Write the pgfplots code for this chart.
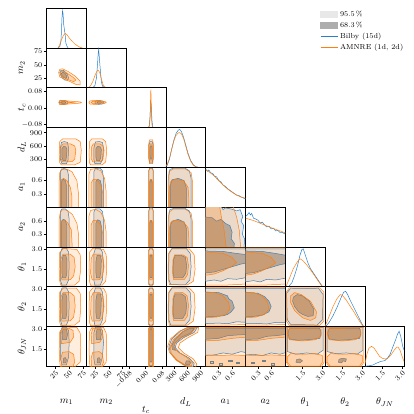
\documentclass[border=0pt]{standalone}
\usepackage{pgfplots}
\pgfplotsset{compat=1.18}
\definecolor{cb}{HTML}{2A80C8}
\definecolor{co}{HTML}{FF7F0E}
\definecolor{g95}{HTML}{E8E8E8}
\definecolor{g68}{HTML}{ADADAD}
\newcommand{\tickfont}{\fontsize{7.3}{8}\selectfont}
\newcommand{\labfont}{\fontsize{10}{12}\selectfont}
\pgfplotsset{
  cell/.style={width=39.8bp,height=39.8bp,scale only axis,anchor=north west,
    xtick=\empty,ytick=\empty,axis line style={line width=0.6pt},
    tick align=outside,major tick length=2.5bp,every tick/.style={black,line width=0.5pt},
    every axis plot/.append style={line width=0.5pt,no markers}},
  pos/.style 2 args={at={({46.5bp+#1*39.8bp},{-8bp-#2*39.8bp})}},
  cM1/.style={xmin=9,xmax=81}, cM2/.style={xmin=8,xmax=82},
  cTC/.style={xmin=-0.095,xmax=0.1}, cDL/.style={xmin=120,xmax=1020},
  cA1/.style={xmin=0.01,xmax=0.9}, cA2/.style={xmin=0.02,xmax=0.92},
  cTH/.style={xmin=0.2,xmax=3.2},
  rM2/.style={ymin=8,ymax=82}, rTC/.style={ymin=-0.095,ymax=0.1},
  rDL/.style={ymin=120,ymax=1020}, rA1/.style={ymin=0.01,ymax=0.9},
  rA2/.style={ymin=0.02,ymax=0.92}, rTH/.style={ymin=0.2,ymax=3.2},
  rD/.style={ymin=0,ymax=1},
  b95/.style={draw=cb,fill=g95}, b68/.style={draw=cb,fill=g68},
  o95/.style={draw=co,fill=co,fill opacity=0.14}, o68/.style={draw=co,fill=co,fill opacity=0.24},
  bl/.style={cb}, ol/.style={co},
  left/.style={ytick pos=left,yticklabel style={font=\tickfont,inner sep=1.5pt},
    ylabel style={at={(axis description cs:-0.62,0.5)},anchor=center,font=\labfont}},
  lM2/.style={left,ytick={25,50,75},yticklabels={25,50,75},ylabel={$m_2$}},
  lTC/.style={left,ytick={-0.08,0,0.08},yticklabels={$-0.08$,$0.00$,$0.08$},ylabel={$t_c$}},
  lDL/.style={left,ytick={300,600,900},yticklabels={300,600,900},ylabel={$d_L$}},
  lA1/.style={left,ytick={0.3,0.6},yticklabels={0.3,0.6},ylabel={$a_1$}},
  lA2/.style={left,ytick={0.3,0.6},yticklabels={0.3,0.6},ylabel={$a_2$}},
  lT1/.style={left,ytick={1.5,3.0},yticklabels={1.5,3.0},ylabel={$\theta_1$}},
  lT2/.style={left,ytick={1.5,3.0},yticklabels={1.5,3.0},ylabel={$\theta_2$}},
  lTJ/.style={left,ytick={1.5,3.0},yticklabels={1.5,3.0},ylabel={$\theta_{JN}$}},
  bottom/.style={xtick pos=lower,xticklabel style={font=\tickfont,rotate=45,anchor=north east,inner sep=1pt},
    xlabel style={at={(axis description cs:0.5,-0.9)},anchor=center,font=\labfont}},
  bM1/.style={bottom,xtick={25,50,75},xticklabels={25,50,75},xlabel={$m_1$}},
  bM2/.style={bottom,xtick={25,50,75},xticklabels={25,50,75},xlabel={$m_2$}},
  bTC/.style={bottom,xtick={-0.08,0,0.08},xticklabels={$-0.08$,$0.00$,$0.08$},xlabel={$t_c$},
    xlabel style={at={(axis description cs:0.5,-1.1)}}},
  bDL/.style={bottom,xtick={300,600,900},xticklabels={300,600,900},xlabel={$d_L$}},
  bA1/.style={bottom,xtick={0.3,0.6},xticklabels={0.3,0.6},xlabel={$a_1$}},
  bA2/.style={bottom,xtick={0.3,0.6},xticklabels={0.3,0.6},xlabel={$a_2$}},
  bT1/.style={bottom,xtick={1.5,3.0},xticklabels={1.5,3.0},xlabel={$\theta_1$}},
  bT2/.style={bottom,xtick={1.5,3.0},xticklabels={1.5,3.0},xlabel={$\theta_2$}},
  bTJ/.style={bottom,xtick={1.5,3.0},xticklabels={1.5,3.0},xlabel={$\theta_{JN}$}},
}
\begin{document}
\begin{tikzpicture}
\path[use as bounding box] (0,0) rectangle (414bp,-414bp);

% ---------------- row 1: m1
\begin{axis}[cell,pos={0}{0},cM1,rD,
  legend style={at={(6.8,1.03)},anchor=north west,draw=none,fill=none,font=\tickfont},
  legend cell align=left]
\addlegendimage{area legend,fill=g95,draw=g95}
\addlegendimage{area legend,fill=g68,draw=g68}
\addlegendimage{cb,line width=0.7pt}
\addlegendimage{co,line width=0.7pt}
\addplot[bl] coordinates {(30,0) (33,0.03) (35,0.15) (36,0.4) (37,0.75) (38,0.93) (39,0.85) (40,0.6) (42,0.4) (43,0.3) (44,0.12) (46,0.04) (48,0)};
\addplot[ol] coordinates {(30,0) (33,0.08) (36,0.2) (40,0.32) (43,0.36) (46,0.33) (50,0.25) (55,0.17) (60,0.1) (65,0.05) (70,0.01) (74,0)};
\legend{95.5\,\%,68.3\,\%,Bilby (15d),{AMNRE (1d, 2d)}}
\end{axis}

% ---------------- row 2: m2
\begin{axis}[cell,pos={0}{1},cM1,rM2,lM2]
\addplot[b95] coordinates {(33,36) (35,40) (40,40) (46,34) (49,26) (47,22) (42,22) (36,28)} --cycle;
\addplot[b68] coordinates {(36,34) (39,37) (43,34) (46,28) (44,25) (40,27) (37,30)} --cycle;
\addplot[o95] coordinates {(31,36) (33,42) (38,43) (48,38) (60,30) (70,20) (70,13) (62,14) (50,20) (40,24) (33,28)} --cycle;
\addplot[o68] coordinates {(34,36) (38,39) (46,35) (56,28) (62,22) (58,19) (48,23) (40,27) (35,31)} --cycle;
\end{axis}
\begin{axis}[cell,pos={1}{1},cM2,rD]
\addplot[bl] coordinates {(20,0) (24,0.05) (27,0.25) (29,0.6) (30,0.85) (31,0.96) (32,0.8) (34,0.45) (36,0.15) (38,0.04) (41,0)};
\addplot[ol] coordinates {(12,0) (16,0.05) (20,0.15) (24,0.3) (28,0.42) (30,0.44) (33,0.38) (36,0.22) (39,0.08) (42,0.02) (45,0)};
\end{axis}

% ---------------- row 3: tc
\begin{axis}[cell,pos={0}{2},cM1,rTC,lTC]
\addplot[b95] coordinates {(32,0.027) (34,0.036) (40,0.038) (46,0.034) (48,0.027) (46,0.02) (40,0.017) (34,0.019)} --cycle;
\addplot[b68] coordinates {(36,0.027) (38,0.032) (42,0.032) (44,0.027) (42,0.022) (38,0.022)} --cycle;
\addplot[o95] coordinates {(31,0.027) (33,0.037) (42,0.036) (55,0.033) (70,0.03) (72,0.027) (70,0.024) (55,0.021) (42,0.018) (33,0.017)} --cycle;
\addplot[o68] coordinates {(34,0.027) (36,0.033) (45,0.031) (58,0.028) (45,0.023) (36,0.022)} --cycle;
\end{axis}
\begin{axis}[cell,pos={1}{2},cM2,rTC]
\addplot[b95] coordinates {(24,0.027) (26,0.036) (33,0.037) (39,0.033) (41,0.027) (38,0.02) (31,0.018) (26,0.02)} --cycle;
\addplot[b68] coordinates {(28,0.027) (30,0.032) (35,0.032) (37,0.027) (35,0.023) (30,0.023)} --cycle;
\addplot[o95] coordinates {(13,0.027) (15,0.035) (25,0.037) (38,0.035) (44,0.03) (45,0.026) (40,0.021) (25,0.018) (15,0.019)} --cycle;
\addplot[o68] coordinates {(17,0.027) (20,0.033) (30,0.033) (40,0.029) (30,0.022) (20,0.022)} --cycle;
\end{axis}
\begin{axis}[cell,pos={2}{2},cTC,rD]
\addplot[bl] coordinates {(0.015,0) (0.019,0.05) (0.022,0.25) (0.025,0.55) (0.027,0.6) (0.029,0.45) (0.032,0.15) (0.036,0)};
\addplot[ol] coordinates {(0.015,0) (0.02,0.05) (0.023,0.3) (0.025,0.8) (0.026,0.95) (0.027,0.85) (0.029,0.4) (0.031,0.1) (0.034,0)};
\end{axis}

% ---------------- row 4: dL
\begin{axis}[cell,pos={0}{3},cM1,rDL,lDL]
\addplot[b95] coordinates {(37,200) (45,200) (48,280) (49,550) (47,680) (41,700) (36,680) (34,550) (34,300)} --cycle;
\addplot[b68] coordinates {(39,270) (44,270) (45,350) (46,520) (44,580) (40,590) (37,540) (37,340)} --cycle;
\addplot[o95] coordinates {(36,170) (60,175) (70,230) (72,500) (70,700) (62,760) (38,760) (33,700) (32,400) (33,220)} --cycle;
\addplot[o68] coordinates {(38,240) (55,245) (60,300) (62,500) (60,600) (52,650) (39,650) (35,580) (35,320)} --cycle;
\end{axis}
\begin{axis}[cell,pos={1}{3},cM2,rDL]
\addplot[b95] coordinates {(24,200) (34,200) (38,280) (40,550) (38,680) (32,700) (25,690) (22,550) (22,300)} --cycle;
\addplot[b68] coordinates {(27,270) (33,270) (35,350) (36,520) (34,580) (29,590) (26,540) (26,340)} --cycle;
\addplot[o95] coordinates {(16,170) (38,175) (44,240) (46,500) (44,700) (38,760) (18,760) (14,700) (13,400) (14,220)} --cycle;
\addplot[o68] coordinates {(20,240) (34,245) (39,300) (41,500) (39,600) (33,650) (21,650) (18,580) (17,320)} --cycle;
\end{axis}
\begin{axis}[cell,pos={2}{3},cTC,rDL]
\addplot[b95] coordinates {(0.021,220) (0.033,220) (0.038,350) (0.038,600) (0.033,700) (0.022,700) (0.016,600) (0.016,350)} --cycle;
\addplot[b68] coordinates {(0.024,300) (0.031,300) (0.033,420) (0.032,560) (0.03,600) (0.024,600) (0.022,520) (0.022,400)} --cycle;
\addplot[o95] coordinates {(0.02,200) (0.035,200) (0.04,350) (0.04,600) (0.035,740) (0.02,740) (0.014,600) (0.014,350)} --cycle;
\addplot[o68] coordinates {(0.022,260) (0.032,260) (0.035,400) (0.034,600) (0.03,650) (0.023,650) (0.02,560) (0.019,380)} --cycle;
\end{axis}
\begin{axis}[cell,pos={3}{3},cDL,rD]
\addplot[bl] coordinates {(120,0.02) (150,0.05) (200,0.2) (250,0.45) (300,0.68) (350,0.85) (400,0.93) (430,0.95) (470,0.9) (520,0.75) (570,0.55) (620,0.35) (680,0.17) (740,0.06) (800,0.01) (850,0)};
\addplot[ol] coordinates {(120,0.03) (150,0.08) (200,0.22) (250,0.45) (300,0.66) (350,0.8) (400,0.86) (430,0.87) (470,0.84) (520,0.72) (570,0.52) (620,0.32) (680,0.15) (740,0.05) (800,0.01) (850,0)};
\end{axis}

% ---------------- row 5: a1
\begin{axis}[cell,pos={0}{4},cM1,rA1,lA1]
\addplot[b95] coordinates {(34,-0.1) (34,0.8) (36,0.86) (42,0.87) (47,0.83) (49,0.7) (49,-0.1)} --cycle;
\addplot[b68] coordinates {(36,-0.1) (36,0.58) (39,0.63) (43,0.6) (45,0.5) (45,-0.1)} --cycle;
\addplot[o95] coordinates {(32,-0.1) (32,0.6) (33,0.78) (37,0.85) (45,0.86) (55,0.8) (64,0.6) (67,0.3) (67,-0.1)} --cycle;
\addplot[o68] coordinates {(34,-0.1) (34,0.5) (36,0.62) (40,0.65) (46,0.6) (52,0.45) (55,0.25) (55,-0.1)} --cycle;
\end{axis}
\begin{axis}[cell,pos={1}{4},cM2,rA1]
\addplot[b95] coordinates {(22,-0.1) (22,0.8) (25,0.87) (33,0.88) (38,0.82) (40,0.65) (40,-0.1)} --cycle;
\addplot[b68] coordinates {(26,-0.1) (26,0.58) (29,0.63) (34,0.6) (36,0.5) (36,-0.1)} --cycle;
\addplot[o95] coordinates {(13,-0.1) (13,0.75) (16,0.85) (25,0.87) (35,0.82) (42,0.65) (45,0.35) (45,-0.1)} --cycle;
\addplot[o68] coordinates {(17,-0.1) (17,0.55) (21,0.63) (28,0.63) (35,0.5) (39,0.3) (39,-0.1)} --cycle;
\end{axis}
\begin{axis}[cell,pos={2}{4},cTC,rA1]
\addplot[b95] coordinates {(0.016,-0.1) (0.038,-0.1) (0.038,0.82) (0.033,0.88) (0.021,0.88) (0.016,0.82)} --cycle;
\addplot[b68] coordinates {(0.022,-0.1) (0.032,-0.1) (0.032,0.56) (0.029,0.62) (0.025,0.62) (0.022,0.56)} --cycle;
\addplot[o95] coordinates {(0.014,-0.1) (0.04,-0.1) (0.04,0.8) (0.035,0.87) (0.02,0.87) (0.014,0.8)} --cycle;
\addplot[o68] coordinates {(0.019,-0.1) (0.035,-0.1) (0.035,0.55) (0.031,0.63) (0.023,0.63) (0.019,0.55)} --cycle;
\end{axis}
\begin{axis}[cell,pos={3}{4},cDL,rA1]
\addplot[b95] coordinates {(185,-0.1) (185,0.7) (210,0.85) (300,0.88) (550,0.88) (650,0.82) (690,0.65) (690,-0.1)} --cycle;
\addplot[b68] coordinates {(220,-0.1) (220,0.5) (260,0.62) (400,0.65) (530,0.6) (580,0.45) (590,-0.1)} --cycle;
\addplot[o95] coordinates {(175,-0.1) (172,0.6) (190,0.8) (280,0.86) (560,0.86) (690,0.78) (725,0.55) (725,-0.1)} --cycle;
\addplot[o68] coordinates {(200,-0.1) (200,0.45) (230,0.58) (330,0.63) (520,0.6) (620,0.45) (640,0.2) (640,-0.1)} --cycle;
\end{axis}
\begin{axis}[cell,pos={4}{4},cA1,rD]
\addplot[bl] coordinates {(0.01,0.95) (0.05,0.9) (0.08,0.93) (0.12,0.86) (0.17,0.84) (0.2,0.78) (0.25,0.76) (0.3,0.67) (0.35,0.63) (0.4,0.55) (0.45,0.52) (0.5,0.46) (0.55,0.42) (0.6,0.38) (0.65,0.34) (0.7,0.3) (0.75,0.29) (0.8,0.25) (0.85,0.23) (0.9,0.2)};
\addplot[ol] coordinates {(0.01,0.93) (0.1,0.87) (0.2,0.78) (0.3,0.66) (0.4,0.55) (0.5,0.45) (0.6,0.37) (0.7,0.3) (0.8,0.25) (0.9,0.22)};
\end{axis}

% ---------------- row 6: a2
\begin{axis}[cell,pos={0}{5},cM1,rA2,lA2]
\addplot[b95] coordinates {(34,-0.1) (34,0.82) (37,0.88) (43,0.88) (48,0.82) (50,0.65) (50,-0.1)} --cycle;
\addplot[b68] coordinates {(36,-0.1) (36,0.58) (39,0.64) (43,0.62) (46,0.5) (46,-0.1)} --cycle;
\addplot[o95] coordinates {(32,-0.1) (32,0.65) (34,0.8) (38,0.86) (46,0.85) (56,0.75) (64,0.55) (67,0.3) (67,-0.1)} --cycle;
\addplot[o68] coordinates {(34,-0.1) (34,0.52) (37,0.62) (42,0.63) (48,0.55) (54,0.4) (56,-0.1)} --cycle;
\end{axis}
\begin{axis}[cell,pos={1}{5},cM2,rA2]
\addplot[b95] coordinates {(22,-0.1) (22,0.8) (25,0.88) (33,0.88) (38,0.82) (40,0.65) (40,-0.1)} --cycle;
\addplot[b68] coordinates {(26,-0.1) (26,0.56) (29,0.63) (34,0.6) (36,0.48) (36,-0.1)} --cycle;
\addplot[o95] coordinates {(13,-0.1) (13,0.72) (16,0.84) (25,0.87) (35,0.8) (42,0.62) (45,0.35) (45,-0.1)} --cycle;
\addplot[o68] coordinates {(17,-0.1) (17,0.52) (21,0.62) (28,0.62) (35,0.5) (39,0.3) (39,-0.1)} --cycle;
\end{axis}
\begin{axis}[cell,pos={2}{5},cTC,rA2]
\addplot[b95] coordinates {(0.016,-0.1) (0.038,-0.1) (0.038,0.84) (0.033,0.9) (0.021,0.9) (0.016,0.84)} --cycle;
\addplot[b68] coordinates {(0.022,-0.1) (0.032,-0.1) (0.032,0.56) (0.029,0.62) (0.025,0.62) (0.022,0.56)} --cycle;
\addplot[o95] coordinates {(0.014,-0.1) (0.04,-0.1) (0.04,0.8) (0.035,0.88) (0.02,0.88) (0.014,0.8)} --cycle;
\addplot[o68] coordinates {(0.019,-0.1) (0.035,-0.1) (0.035,0.55) (0.031,0.62) (0.023,0.62) (0.019,0.55)} --cycle;
\end{axis}
\begin{axis}[cell,pos={3}{5},cDL,rA2]
\addplot[b95] coordinates {(185,-0.1) (185,0.72) (210,0.86) (300,0.89) (550,0.89) (650,0.83) (690,0.65) (690,-0.1)} --cycle;
\addplot[b68] coordinates {(220,-0.1) (220,0.5) (260,0.6) (400,0.64) (530,0.58) (580,0.45) (590,-0.1)} --cycle;
\addplot[o95] coordinates {(175,-0.1) (172,0.6) (190,0.8) (280,0.87) (560,0.87) (690,0.78) (725,0.55) (725,-0.1)} --cycle;
\addplot[o68] coordinates {(200,-0.1) (200,0.45) (230,0.57) (330,0.62) (520,0.58) (620,0.45) (640,0.2) (640,-0.1)} --cycle;
\end{axis}
\begin{axis}[cell,pos={4}{5},cA1,rA2]
\addplot[b95] coordinates {(-0.1,-0.1) (-0.1,1) (0.3,1) (0.4,0.86) (0.45,0.9) (0.6,0.87) (0.7,0.83) (0.78,0.86) (0.84,0.7) (0.8,0.6) (0.86,0.5) (0.83,0.3) (0.88,0.2) (0.86,-0.1)} --cycle;
\addplot[b68] coordinates {(-0.1,-0.1) (-0.1,0.7) (0.15,0.68) (0.25,0.6) (0.35,0.64) (0.45,0.55) (0.55,0.5) (0.6,0.35) (0.58,0.2) (0.65,0.1) (0.64,-0.1)} --cycle;
\addplot[o95] coordinates {(-0.1,-0.1) (-0.1,1) (0.6,1) (0.7,0.7) (0.76,0.4) (0.8,-0.1)} --cycle;
\addplot[o68] coordinates {(-0.1,-0.1) (-0.1,1) (0.31,1) (0.36,0.7) (0.42,0.4) (0.48,-0.1)} --cycle;
\end{axis}
\begin{axis}[cell,pos={5}{5},cA2,rD]
\addplot[bl] coordinates {(0.02,0.76) (0.06,0.8) (0.1,0.86) (0.13,0.8) (0.16,0.84) (0.2,0.72) (0.25,0.7) (0.3,0.67) (0.35,0.6) (0.4,0.62) (0.45,0.55) (0.5,0.5) (0.55,0.52) (0.6,0.45) (0.65,0.47) (0.7,0.4) (0.75,0.41) (0.8,0.36) (0.85,0.36) (0.92,0.32)};
\addplot[ol] coordinates {(0.02,0.72) (0.2,0.66) (0.4,0.57) (0.6,0.48) (0.8,0.4) (0.92,0.35)};
\end{axis}

% ---------------- row 7: theta1
\begin{axis}[cell,pos={0}{6},cM1,rTH,lT1]
\addplot[b95] coordinates {(37,0.3) (45,0.32) (49,0.7) (50,1.8) (49,2.8) (45,3.08) (37,3.08) (34,2.7) (34,0.7)} --cycle;
\addplot[b68] coordinates {(38,0.85) (44,0.85) (46,1.3) (46,2.2) (44,2.55) (39,2.55) (37,2.1) (37,1.2)} --cycle;
\addplot[o95] coordinates {(35,0.3) (60,0.32) (68,0.6) (71,1.5) (70,2.6) (64,3.0) (40,3.08) (33,2.8) (32,1.5) (33,0.6)} --cycle;
\addplot[o68] coordinates {(37,0.7) (52,0.72) (58,1.0) (61,1.7) (59,2.4) (52,2.65) (39,2.65) (35,2.3) (34,1.2)} --cycle;
\end{axis}
\begin{axis}[cell,pos={1}{6},cM2,rTH]
\addplot[b95] coordinates {(24,0.3) (34,0.32) (38,0.7) (40,1.8) (38,2.8) (34,3.08) (25,3.08) (22,2.7) (22,0.7)} --cycle;
\addplot[b68] coordinates {(27,0.85) (33,0.85) (35,1.3) (36,2.2) (34,2.55) (28,2.55) (26,2.1) (26,1.2)} --cycle;
\addplot[o95] coordinates {(16,0.3) (38,0.32) (44,0.6) (46,1.5) (45,2.6) (40,3.0) (20,3.08) (14,2.8) (13,1.5) (14,0.6)} --cycle;
\addplot[o68] coordinates {(19,0.7) (33,0.72) (38,1.0) (41,1.7) (39,2.4) (33,2.65) (21,2.65) (17,2.3) (16,1.2)} --cycle;
\end{axis}
\begin{axis}[cell,pos={2}{6},cTC,rTH]
\addplot[b95] coordinates {(0.016,0.45) (0.021,0.33) (0.033,0.33) (0.038,0.45) (0.038,2.9) (0.033,3.05) (0.021,3.05) (0.016,2.9)} --cycle;
\addplot[b68] coordinates {(0.022,0.95) (0.025,0.85) (0.029,0.85) (0.032,0.95) (0.032,2.4) (0.029,2.55) (0.025,2.55) (0.022,2.4)} --cycle;
\addplot[o95] coordinates {(0.014,0.4) (0.02,0.3) (0.035,0.3) (0.04,0.4) (0.04,2.9) (0.035,3.08) (0.02,3.08) (0.014,2.9)} --cycle;
\addplot[o68] coordinates {(0.019,0.8) (0.023,0.7) (0.031,0.7) (0.035,0.8) (0.035,2.5) (0.031,2.65) (0.023,2.65) (0.019,2.5)} --cycle;
\end{axis}
\begin{axis}[cell,pos={3}{6},cDL,rTH]
\addplot[b95] coordinates {(230,0.35) (560,0.33) (660,0.7) (690,1.7) (670,2.7) (580,3.08) (260,3.08) (190,2.7) (180,1.5) (190,0.7)} --cycle;
\addplot[b68] coordinates {(300,0.85) (500,0.85) (570,1.2) (590,1.8) (560,2.4) (470,2.55) (330,2.55) (290,2.2) (280,1.3)} --cycle;
\addplot[o95] coordinates {(200,0.35) (600,0.32) (740,0.6) (780,1.5) (760,2.6) (650,3.05) (250,3.05) (180,2.7) (170,1.5) (180,0.7)} --cycle;
\addplot[o68] coordinates {(290,0.75) (540,0.75) (610,1.1) (630,1.8) (600,2.4) (500,2.6) (320,2.6) (280,2.2) (270,1.3)} --cycle;
\end{axis}
\begin{axis}[cell,pos={4}{6},cA1,rTH]
\addplot[b95] coordinates {(-0.1,0.55) (0.2,0.7) (0.35,0.6) (0.5,0.8) (0.7,0.75) (0.95,0.9) (0.95,3.05) (-0.1,3.05)} --cycle;
\addplot[b68] coordinates {(-0.1,1.2) (0.2,1.3) (0.4,1.5) (0.6,1.7) (0.8,1.9) (0.95,2.0) (0.95,2.6) (0.7,2.7) (0.4,2.85) (-0.1,2.9)} --cycle;
\addplot[o95] coordinates {(-0.1,0.3) (0.5,0.32) (0.95,0.4) (0.95,3.12) (-0.1,3.12)} --cycle;
\addplot[o68] coordinates {(-0.1,1.0) (0.2,1.15) (0.4,1.4) (0.6,1.75) (0.7,2.0) (0.6,2.4) (0.4,2.7) (-0.1,2.85)} --cycle;
\end{axis}
\begin{axis}[cell,pos={5}{6},cA2,rTH]
\addplot[b95] coordinates {(-0.1,0.5) (0.2,0.65) (0.35,0.55) (0.5,0.75) (0.7,0.7) (0.95,0.85) (0.95,3.05) (-0.1,3.05)} --cycle;
\addplot[b68] coordinates {(-0.1,1.15) (0.2,1.25) (0.4,1.45) (0.6,1.65) (0.8,1.85) (0.95,1.95) (0.95,2.55) (0.7,2.7) (0.4,2.85) (-0.1,2.9)} --cycle;
\addplot[o95] coordinates {(-0.1,0.3) (0.5,0.32) (0.95,0.4) (0.95,3.12) (-0.1,3.12)} --cycle;
\addplot[o68] coordinates {(-0.1,1.0) (0.2,1.15) (0.4,1.4) (0.6,1.75) (0.7,2.0) (0.6,2.4) (0.4,2.7) (-0.1,2.85)} --cycle;
\end{axis}
\begin{axis}[cell,pos={6}{6},cTH,rD]
\addplot[bl] coordinates {(0.45,0) (0.7,0.1) (0.9,0.28) (1.1,0.5) (1.3,0.78) (1.45,0.93) (1.55,0.95) (1.7,0.8) (1.9,0.6) (2.1,0.45) (2.3,0.35) (2.5,0.25) (2.7,0.15) (2.9,0.05) (3.0,0)};
\addplot[ol] coordinates {(0.25,0) (0.5,0.2) (0.8,0.45) (1.1,0.62) (1.3,0.7) (1.5,0.66) (1.8,0.55) (2.1,0.42) (2.4,0.28) (2.7,0.13) (2.95,0.02) (3.05,0)};
\end{axis}

% ---------------- row 8: theta2
\begin{axis}[cell,pos={0}{7},cM1,rTH,lT2]
\addplot[b95] coordinates {(37,0.28) (45,0.3) (49,0.7) (50,1.8) (49,2.8) (45,3.1) (37,3.1) (34,2.7) (34,0.7)} --cycle;
\addplot[b68] coordinates {(38,0.8) (44,0.8) (46,1.3) (46,2.3) (44,2.65) (39,2.65) (37,2.2) (37,1.2)} --cycle;
\addplot[o95] coordinates {(35,0.25) (60,0.3) (69,0.6) (71,1.6) (70,2.7) (63,3.08) (40,3.1) (33,2.8) (32,1.5) (33,0.5)} --cycle;
\addplot[o68] coordinates {(37,0.6) (52,0.62) (58,0.9) (61,1.7) (59,2.5) (52,2.75) (39,2.75) (35,2.4) (34,1.1)} --cycle;
\end{axis}
\begin{axis}[cell,pos={1}{7},cM2,rTH]
\addplot[b95] coordinates {(24,0.28) (34,0.3) (38,0.7) (40,1.8) (38,2.8) (34,3.1) (25,3.1) (22,2.7) (22,0.7)} --cycle;
\addplot[b68] coordinates {(27,0.8) (33,0.8) (35,1.3) (36,2.3) (34,2.65) (28,2.65) (26,2.2) (26,1.2)} --cycle;
\addplot[o95] coordinates {(16,0.25) (38,0.3) (44,0.6) (46,1.6) (45,2.7) (40,3.08) (20,3.1) (14,2.8) (13,1.5) (14,0.5)} --cycle;
\addplot[o68] coordinates {(19,0.6) (33,0.62) (38,0.9) (41,1.7) (39,2.5) (33,2.75) (21,2.75) (17,2.4) (16,1.1)} --cycle;
\end{axis}
\begin{axis}[cell,pos={2}{7},cTC,rTH]
\addplot[b95] coordinates {(0.016,0.4) (0.021,0.3) (0.033,0.3) (0.038,0.4) (0.038,2.95) (0.033,3.08) (0.021,3.08) (0.016,2.95)} --cycle;
\addplot[b68] coordinates {(0.022,0.9) (0.025,0.8) (0.029,0.8) (0.032,0.9) (0.032,2.5) (0.029,2.65) (0.025,2.65) (0.022,2.5)} --cycle;
\addplot[o95] coordinates {(0.014,0.35) (0.02,0.25) (0.035,0.25) (0.04,0.35) (0.04,2.95) (0.035,3.1) (0.02,3.1) (0.014,2.95)} --cycle;
\addplot[o68] coordinates {(0.019,0.7) (0.023,0.6) (0.031,0.6) (0.035,0.7) (0.035,2.6) (0.031,2.75) (0.023,2.75) (0.019,2.6)} --cycle;
\end{axis}
\begin{axis}[cell,pos={3}{7},cDL,rTH]
\addplot[b95] coordinates {(230,0.3) (560,0.3) (660,0.7) (690,1.7) (670,2.75) (580,3.1) (260,3.1) (190,2.75) (180,1.5) (190,0.65)} --cycle;
\addplot[b68] coordinates {(300,0.8) (500,0.8) (570,1.2) (590,1.8) (560,2.45) (470,2.65) (330,2.65) (290,2.25) (280,1.3)} --cycle;
\addplot[o95] coordinates {(200,0.28) (600,0.28) (740,0.6) (780,1.6) (760,2.7) (650,3.1) (250,3.1) (180,2.75) (170,1.5) (180,0.6)} --cycle;
\addplot[o68] coordinates {(290,0.65) (540,0.65) (610,1.0) (630,1.8) (600,2.5) (500,2.75) (320,2.75) (280,2.3) (270,1.2)} --cycle;
\end{axis}
\begin{axis}[cell,pos={4}{7},cA1,rTH]
\addplot[b95] coordinates {(-0.1,0.4) (0.3,0.45) (0.5,0.4) (0.7,0.55) (0.95,0.5) (0.95,3.05) (-0.1,3.05)} --cycle;
\addplot[b68] coordinates {(-0.1,0.9) (0.2,0.95) (0.4,1.0) (0.5,1.1) (0.58,1.3) (0.65,1.6) (0.6,2.1) (0.52,2.3) (0.5,2.5) (0.3,2.75) (-0.1,2.8)} --cycle;
\addplot[o95] coordinates {(-0.1,0.3) (0.5,0.3) (0.95,0.35) (0.95,3.12) (-0.1,3.12)} --cycle;
\addplot[o68] coordinates {(-0.1,0.85) (0.25,0.9) (0.45,1.1) (0.55,1.5) (0.52,2.0) (0.4,2.5) (0.2,2.75) (-0.1,2.8)} --cycle;
\end{axis}
\begin{axis}[cell,pos={5}{7},cA2,rTH]
\addplot[b95] coordinates {(-0.1,0.4) (0.3,0.42) (0.5,0.38) (0.7,0.5) (0.95,0.48) (0.95,3.05) (-0.1,3.05)} --cycle;
\addplot[b68] coordinates {(-0.1,0.9) (0.2,0.95) (0.4,1.05) (0.55,1.3) (0.6,1.7) (0.55,2.1) (0.45,2.45) (0.3,2.7) (-0.1,2.8)} --cycle;
\addplot[o95] coordinates {(-0.1,0.3) (0.5,0.3) (0.95,0.35) (0.95,3.12) (-0.1,3.12)} --cycle;
\addplot[o68] coordinates {(-0.1,0.85) (0.25,0.9) (0.45,1.1) (0.55,1.5) (0.52,2.0) (0.4,2.5) (0.2,2.75) (-0.1,2.8)} --cycle;
\end{axis}
\begin{axis}[cell,pos={6}{7},cTH,rTH]
\addplot[b95] coordinates {(0.6,0.35) (1.5,0.33) (2.6,0.3) (3.0,0.7) (3.05,2.6) (2.7,3.08) (1.5,3.05) (0.6,3.08) (0.3,2.7) (0.35,0.7)} --cycle;
\addplot[b68] coordinates {(0.8,2.4) (1.1,2.6) (1.5,2.5) (2.0,2.1) (2.35,1.5) (2.3,1.0) (1.9,0.95) (1.5,1.1) (1.2,1.3) (0.9,1.7) (0.75,2.1)} --cycle;
\addplot[o95] coordinates {(0.5,0.28) (2.8,0.28) (3.1,0.6) (3.1,2.8) (2.8,3.1) (0.5,3.1) (0.28,2.8) (0.28,0.6)} --cycle;
\addplot[o68] coordinates {(0.6,2.5) (0.9,2.75) (1.4,2.6) (2.1,2.1) (2.55,1.3) (2.5,0.85) (2.1,0.65) (1.5,0.85) (0.9,1.4) (0.6,2.0)} --cycle;
\end{axis}
\begin{axis}[cell,pos={7}{7},cTH,rD]
\addplot[bl] coordinates {(0.25,0) (0.5,0.1) (0.8,0.27) (1.1,0.48) (1.4,0.72) (1.6,0.86) (1.75,0.88) (1.9,0.8) (2.1,0.65) (2.4,0.45) (2.7,0.25) (2.95,0.08) (3.1,0)};
\addplot[ol] coordinates {(0.2,0) (0.5,0.25) (0.8,0.5) (1.1,0.7) (1.35,0.8) (1.5,0.78) (1.8,0.66) (2.1,0.5) (2.4,0.35) (2.7,0.18) (3.0,0.03) (3.1,0)};
\end{axis}

% ---------------- row 9: thetaJN
\begin{axis}[cell,pos={0}{8},cM1,rTH,lTJ,bM1]
\addplot[b95] coordinates {(37,0.3) (45,0.3) (49,0.9) (50,2.0) (49,2.9) (45,3.12) (37,3.12) (34,2.7) (34,0.8)} --cycle;
\addplot[b68] coordinates {(38,2.2) (45,2.2) (47,2.6) (45,3.0) (39,3.0) (37,2.6)} --cycle;
\addplot[b68] coordinates {(39,0.45) (44,0.45) (45,0.7) (43,0.85) (40,0.8)} --cycle;
\addplot[o95] coordinates {(34,0.15) (60,0.15) (70,0.5) (71,1.6) (70,2.7) (64,3.12) (40,3.15) (33,2.8) (32,1.5) (33,0.5)} --cycle;
\addplot[o68] coordinates {(36,1.9) (52,2.0) (58,2.4) (57,2.9) (50,3.05) (38,3.05) (35,2.6)} --cycle;
\addplot[o68] coordinates {(36,0.1) (56,0.1) (60,0.5) (58,1.1) (50,1.3) (38,1.25) (35,0.8)} --cycle;
\end{axis}
\begin{axis}[cell,pos={1}{8},cM2,rTH,bM2]
\addplot[b95] coordinates {(24,0.3) (34,0.3) (38,0.9) (40,2.0) (38,2.9) (34,3.12) (25,3.12) (22,2.7) (22,0.8)} --cycle;
\addplot[b68] coordinates {(27,2.2) (34,2.2) (36,2.6) (34,3.0) (28,3.0) (26,2.6)} --cycle;
\addplot[b68] coordinates {(28,0.45) (33,0.45) (34,0.7) (32,0.85) (29,0.8)} --cycle;
\addplot[o95] coordinates {(15,0.15) (38,0.15) (45,0.5) (46,1.6) (45,2.7) (40,3.12) (19,3.15) (14,2.8) (13,1.5) (14,0.5)} --cycle;
\addplot[o68] coordinates {(18,1.9) (33,2.0) (39,2.4) (38,2.9) (32,3.05) (20,3.05) (17,2.6)} --cycle;
\addplot[o68] coordinates {(18,0.1) (36,0.1) (40,0.5) (38,1.1) (32,1.3) (20,1.25) (17,0.8)} --cycle;
\end{axis}
\begin{axis}[cell,pos={2}{8},cTC,rTH,bTC]
\addplot[b95] coordinates {(0.016,0.35) (0.021,0.25) (0.033,0.25) (0.038,0.35) (0.038,3.0) (0.033,3.12) (0.021,3.12) (0.016,3.0)} --cycle;
\addplot[b68] coordinates {(0.022,0.6) (0.025,0.5) (0.029,0.5) (0.032,0.6) (0.032,2.9) (0.029,3.05) (0.025,3.05) (0.022,2.9)} --cycle;
\addplot[o95] coordinates {(0.014,0.1) (0.04,0.1) (0.04,3.05) (0.035,3.15) (0.02,3.15) (0.014,3.05)} --cycle;
\addplot[o68] coordinates {(0.019,0.1) (0.035,0.1) (0.035,2.95) (0.031,3.05) (0.023,3.05) (0.019,2.95)} --cycle;
\end{axis}
\begin{axis}[cell,pos={3}{8},cDL,rTH,bDL]
\addplot[b95] coordinates {(620,3.12) (830,3.12) (760,2.75) (520,2.35) (360,1.95) (330,1.6) (440,1.2) (650,0.8) (760,0.4) (730,0.15) (560,0.25) (370,0.65) (220,1.2) (190,1.7) (250,2.25) (450,2.85)} --cycle;
\addplot[b68] coordinates {(660,3.05) (760,3.05) (680,2.7) (480,2.4) (330,1.95) (300,1.65) (340,1.4) (270,1.45) (250,1.75) (320,2.2) (500,2.8)} --cycle;
\addplot[b68] coordinates {(560,0.35) (640,0.3) (680,0.45) (640,0.6) (580,0.6)} --cycle;
\addplot[o95] coordinates {(600,3.12) (860,3.12) (840,2.75) (620,2.35) (440,1.95) (400,1.6) (520,1.2) (740,0.75) (820,0.35) (790,0.12) (560,0.2) (350,0.65) (200,1.25) (160,1.7) (220,2.25) (430,2.85)} --cycle;
\addplot[o68] coordinates {(640,3.1) (790,3.1) (700,2.7) (470,2.35) (320,1.95) (300,1.6) (400,1.25) (600,0.85) (720,0.45) (700,0.22) (560,0.3) (380,0.65) (240,1.15) (220,1.7) (290,2.2) (480,2.75)} --cycle;
\end{axis}
\begin{axis}[cell,pos={4}{8},cA1,rTH,bA1]
\addplot[b95] coordinates {(-0.1,1.0) (0.2,1.05) (0.4,1.2) (0.6,1.1) (0.8,1.3) (0.95,1.2) (0.95,3.1) (-0.1,3.1)} --cycle;
\addplot[b95] coordinates {(0.12,0.45) (0.18,0.45) (0.18,0.55) (0.12,0.55)} --cycle;
\addplot[b95] coordinates {(0.32,0.3) (0.38,0.3) (0.38,0.4) (0.32,0.4)} --cycle;
\addplot[b95] coordinates {(0.52,0.55) (0.6,0.55) (0.6,0.68) (0.52,0.68)} --cycle;
\addplot[b95] coordinates {(0.7,0.4) (0.76,0.4) (0.76,0.5) (0.7,0.5)} --cycle;
\addplot[b68] coordinates {(-0.1,2.2) (0.3,2.3) (0.5,2.5) (0.7,2.55) (0.95,2.6) (0.95,3.05) (-0.1,3.05)} --cycle;
\addplot[o95] coordinates {(-0.1,0.15) (0.95,0.15) (0.95,3.15) (-0.1,3.15)} --cycle;
\addplot[o68] coordinates {(-0.1,2.1) (0.3,2.15) (0.6,2.3) (0.95,2.4) (0.95,3.1) (-0.1,3.1)} --cycle;
\addplot[o68] coordinates {(-0.1,0.1) (0.95,0.1) (0.95,1.0) (0.6,1.05) (0.3,1.0) (-0.1,1.05)} --cycle;
\end{axis}
\begin{axis}[cell,pos={5}{8},cA2,rTH,bA2]
\addplot[b95] coordinates {(-0.1,1.0) (0.2,1.1) (0.4,1.0) (0.6,1.2) (0.8,1.1) (0.95,1.25) (0.95,3.1) (-0.1,3.1)} --cycle;
\addplot[b95] coordinates {(0.15,0.4) (0.21,0.4) (0.21,0.5) (0.15,0.5)} --cycle;
\addplot[b95] coordinates {(0.4,0.55) (0.47,0.55) (0.47,0.68) (0.4,0.68)} --cycle;
\addplot[b95] coordinates {(0.6,0.3) (0.66,0.3) (0.66,0.4) (0.6,0.4)} --cycle;
\addplot[b68] coordinates {(-0.1,2.2) (0.3,2.25) (0.5,2.45) (0.7,2.5) (0.95,2.6) (0.95,3.05) (-0.1,3.05)} --cycle;
\addplot[o95] coordinates {(-0.1,0.15) (0.95,0.15) (0.95,3.15) (-0.1,3.15)} --cycle;
\addplot[o68] coordinates {(-0.1,2.1) (0.3,2.15) (0.6,2.3) (0.95,2.4) (0.95,3.1) (-0.1,3.1)} --cycle;
\addplot[o68] coordinates {(-0.1,0.1) (0.95,0.1) (0.95,1.0) (0.6,1.05) (0.3,1.0) (-0.1,1.05)} --cycle;
\end{axis}
\begin{axis}[cell,pos={6}{8},cTH,rTH,bT1]
\addplot[b95] coordinates {(0.35,1.3) (1.0,1.1) (1.8,1.2) (2.6,1.1) (3.05,1.4) (3.05,3.1) (0.35,3.1)} --cycle;
\addplot[b68] coordinates {(0.5,2.25) (1.2,2.15) (2.0,2.2) (2.8,2.3) (2.9,2.7) (2.8,3.05) (0.5,3.05) (0.4,2.7)} --cycle;
\addplot[b68] coordinates {(1.0,0.5) (1.3,0.45) (1.5,0.6) (1.3,0.75) (1.05,0.7)} --cycle;
\addplot[o95] coordinates {(0.5,0.15) (2.9,0.15) (3.12,0.5) (3.12,3.12) (0.28,3.12) (0.28,0.5)} --cycle;
\addplot[o68] coordinates {(0.5,2.2) (1.5,2.1) (2.5,2.2) (2.9,2.5) (2.9,3.0) (0.5,3.05) (0.35,2.7)} --cycle;
\addplot[o68] coordinates {(0.6,0.2) (2.8,0.2) (3.0,0.5) (3.0,1.0) (2.5,1.15) (1.5,1.1) (0.6,1.15) (0.35,0.9) (0.35,0.5)} --cycle;
\end{axis}
\begin{axis}[cell,pos={7}{8},cTH,rTH,bT2]
\addplot[b95] coordinates {(0.35,1.3) (1.0,1.15) (1.8,1.2) (2.6,1.1) (3.05,1.4) (3.05,3.1) (0.35,3.1)} --cycle;
\addplot[b68] coordinates {(0.5,2.25) (1.2,2.15) (2.0,2.2) (2.8,2.3) (2.9,2.7) (2.8,3.05) (0.5,3.05) (0.4,2.7)} --cycle;
\addplot[b68] coordinates {(1.2,0.5) (1.45,0.45) (1.55,0.6) (1.75,0.55) (1.8,0.75) (1.5,0.8) (1.25,0.72)} --cycle;
\addplot[o95] coordinates {(0.5,0.15) (2.9,0.15) (3.12,0.5) (3.12,3.12) (0.28,3.12) (0.28,0.5)} --cycle;
\addplot[o68] coordinates {(0.5,2.2) (1.5,2.1) (2.5,2.2) (2.9,2.5) (2.9,3.0) (0.5,3.05) (0.35,2.7)} --cycle;
\addplot[o68] coordinates {(0.6,0.2) (2.8,0.2) (3.0,0.5) (3.0,1.0) (2.5,1.15) (1.5,1.1) (0.6,1.15) (0.35,0.9) (0.35,0.5)} --cycle;
\end{axis}
\begin{axis}[cell,pos={8}{8},cTH,rD,bTJ]
\addplot[bl] coordinates {(0.2,0) (0.5,0.01) (0.8,0.03) (1.1,0.08) (1.4,0.12) (1.7,0.14) (1.9,0.2) (2.1,0.3) (2.3,0.48) (2.5,0.65) (2.65,0.8) (2.78,0.88) (2.9,0.75) (3.05,0.5) (3.15,0.4)};
\addplot[ol] coordinates {(0.2,0.05) (0.35,0.3) (0.5,0.45) (0.7,0.5) (0.9,0.45) (1.1,0.35) (1.3,0.25) (1.5,0.2) (1.75,0.18) (2.0,0.22) (2.2,0.3) (2.4,0.4) (2.6,0.48) (2.7,0.48) (2.85,0.4) (3.0,0.25) (3.15,0.12)};
\end{axis}
\end{tikzpicture}
\end{document}
